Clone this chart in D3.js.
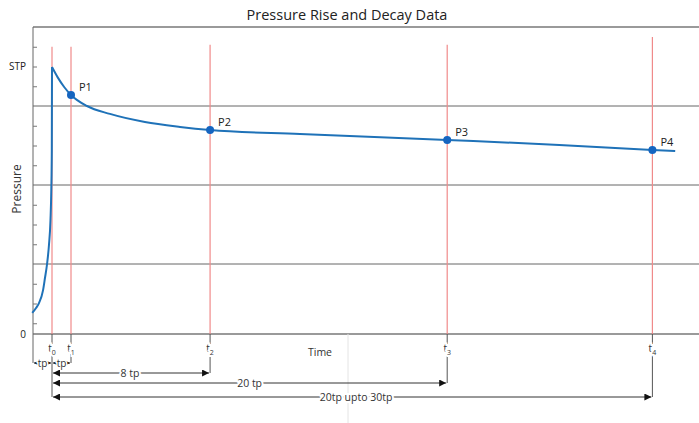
<!DOCTYPE html>
<html>
<head>
<meta charset="utf-8">
<script src="https://cdn.jsdelivr.net/npm/d3@7"></script>
<style>
  body { margin: 0; background: #fff; }
  text { font-family: "Open Sans", sans-serif; fill: #333; }
</style>
</head>
<body>
<script>
// Chart size
var w = 699;
var h = 423;

// Data (time in tp units, pressure in arbitrary units)
var riseTime     = [-1.04, -0.84, -0.68, -0.47, -0.37, -0.26, -0.16, -0.08, -0.037, -0.01, 0];
var risePressure = [1.52, 1.77, 2.03, 2.68, 3.29, 4.0, 4.96, 6.23, 7.75, 9.77, 13.97];
var decayTime     = [0, 0.3, 0.65, 1.0, 1.84, 3.05, 4.89, 6.74, 8.32, 13.05, 20.8, 26.7, 31.6, 32.8];
var decayPressure = [13.97, 13.45, 12.95, 12.56, 12.0, 11.6, 11.19, 10.94, 10.78, 10.58, 10.28, 10.03, 9.77, 9.72];

var pointNames    = ["P1", "P2", "P3", "P4"];
var pointTime     = [1.0, 8.32, 20.8, 31.6];
var pointPressure = [12.56, 10.78, 10.28, 9.77];

var markTime = [0, 1.0, 8.32, 20.8, 31.6];
var markSub  = ["0", "1", "2", "3", "4"];
var markTop  = [15, 15, 15.1, 15.1, 15.5];

var gridValues  = [4, 8, 12, 16];
var minorTicks  = [1, 2, 3, 5, 6, 7, 9, 10, 11, 13, 14, 15];
var labelValues = [0.46, 14];
var labelText   = ["0", "STP"];

var spanLabels = ["8 tp", "20 tp", "20tp upto 30tp"];
var spanEnd    = [8.32, 20.8, 31.6];
var spanMid    = [4.1, 10.4, 16.0];

// Scales
var x = d3.scaleLinear().domain([-1, 34]).range([33, 698]);
var y = d3.scaleLinear().domain([0, 16]).range([343, 27]);
var baseY = y(0.46);

var svg = d3.select("body").append("svg")
    .attr("width", w)
    .attr("height", h);

// Arrowhead marker
svg.append("defs").append("marker")
    .attr("id", "arrow")
    .attr("viewBox", "0 0 10 10")
    .attr("refX", 10).attr("refY", 5)
    .attr("markerWidth", 7).attr("markerHeight", 7)
    .attr("markerUnits", "userSpaceOnUse")
    .attr("orient", "auto-start-reverse")
    .append("path")
    .attr("d", "M0,0L10,5L0,10z")
    .attr("fill", "#111");

// Title
svg.append("text")
    .attr("x", 347).attr("y", 20)
    .attr("text-anchor", "middle")
    .style("font-size", "14.5px")
    .style("fill", "#222")
    .text("Pressure Rise and Decay Data");

// Horizontal grid lines
svg.selectAll("line.grid")
    .data(gridValues)
    .enter().append("line")
    .attr("class", "grid")
    .attr("x1", x(-1)).attr("x2", w)
    .attr("y1", function(d) { return y(d); })
    .attr("y2", function(d) { return y(d); })
    .attr("stroke", function(d) { return d == 16 ? "#9a9a9a" : "#666"; })
    .attr("stroke-width", function(d) { return d == 16 ? 2 : 1; });

// Baseline
svg.append("line")
    .attr("x1", x(-1)).attr("x2", w)
    .attr("y1", baseY).attr("y2", baseY)
    .attr("stroke", "#9a9a9a").attr("stroke-width", 2);

// faint scan line
svg.append("line")
    .attr("x1", 348).attr("x2", 348)
    .attr("y1", baseY).attr("y2", h)
    .attr("stroke", "#e4e4e4").attr("stroke-width", 1);

// Left axis line
svg.append("line")
    .attr("x1", x(-1)).attr("x2", x(-1))
    .attr("y1", y(16)).attr("y2", 363)
    .attr("stroke", "#666").attr("stroke-width", 1);

// Minor ticks on the inside
var tickAxis = svg.append("g")
    .attr("transform", "translate(" + x(-1) + ",0)")
    .call(d3.axisRight(y).tickValues(minorTicks).tickSize(4).tickFormat(""));
tickAxis.select(".domain").remove();
tickAxis.selectAll("line").attr("stroke", "#777");

// Pressure labels
var labAxis = svg.append("g")
    .attr("transform", "translate(" + (x(-1) - 4) + ",0)")
    .call(d3.axisLeft(y).tickValues(labelValues).tickSize(0)
        .tickFormat(function(d, i) { return labelText[i]; }));
labAxis.select(".domain").remove();
labAxis.selectAll("text")
    .style("font-family", "'Open Sans', sans-serif")
    .style("font-size", "10px")
    .style("fill", "#222");

// Y axis title
svg.append("text")
    .attr("transform", "translate(21,189) rotate(-90)")
    .attr("text-anchor", "middle")
    .style("font-size", "12px")
    .text("Pressure");

// Red time markers
svg.selectAll("line.mark")
    .data(markTime)
    .enter().append("line")
    .attr("class", "mark")
    .attr("x1", function(d) { return x(d); })
    .attr("x2", function(d) { return x(d); })
    .attr("y1", function(d, i) { return y(markTop[i]); })
    .attr("y2", baseY)
    .attr("stroke", "#f08a8a").attr("stroke-width", 1.2);

// Dimension rows below the axis
var rowY = [373, 383, 397];
var markRowEnd = [397, 363, 373, 383, 397];

svg.selectAll("line.ext")
    .data(markTime)
    .enter().append("line")
    .attr("class", "ext")
    .attr("x1", function(d) { return x(d); })
    .attr("x2", function(d) { return x(d); })
    .attr("y1", baseY)
    .attr("y2", function(d, i) { return markRowEnd[i]; })
    .attr("stroke", "#555").attr("stroke-width", 1);

// tp arrows
var tpSpans = [[-1, 0], [0, 1]];
tpSpans.forEach(function(s) {
    svg.append("line")
        .attr("x1", x(s[0]) + 1).attr("x2", x(s[1]) - 1)
        .attr("y1", 363).attr("y2", 363)
        .attr("stroke", "#333").attr("stroke-width", 1)
        .attr("marker-start", "url(#arrow)")
        .attr("marker-end", "url(#arrow)");
    svg.append("text")
        .attr("x", (x(s[0]) + x(s[1])) / 2).attr("y", 366.5)
        .attr("text-anchor", "middle")
        .style("font-size", "10px")
        .style("stroke", "#fff").style("stroke-width", 3)
        .style("paint-order", "stroke")
        .text("tp");
});

spanEnd.forEach(function(d, i) {
    svg.append("line")
        .attr("x1", x(0) + 1).attr("x2", x(d) - 1)
        .attr("y1", rowY[i]).attr("y2", rowY[i])
        .attr("stroke", "#333").attr("stroke-width", 1)
        .attr("marker-start", "url(#arrow)")
        .attr("marker-end", "url(#arrow)");
    svg.append("text")
        .attr("x", x(spanMid[i])).attr("y", rowY[i] + 3.5)
        .attr("text-anchor", "middle")
        .style("font-size", "10.5px")
        .style("stroke", "#fff").style("stroke-width", 4)
        .style("paint-order", "stroke")
        .text(spanLabels[i]);
});

// Time labels t0..t4
var tLab = svg.selectAll("text.tlab")
    .data(markTime)
    .enter().append("text")
    .attr("class", "tlab")
    .attr("x", function(d) { return x(d); })
    .attr("y", 352)
    .attr("text-anchor", "middle")
    .style("font-size", "10px")
    .style("stroke", "#fff").style("stroke-width", 4)
    .style("paint-order", "stroke");
tLab.append("tspan").text("t");
tLab.append("tspan")
    .attr("dy", 3)
    .style("font-size", "7px")
    .text(function(d, i) { return markSub[i]; });

svg.append("text")
    .attr("x", 320).attr("y", 356)
    .attr("text-anchor", "middle")
    .style("font-size", "10.5px")
    .text("Time");

// Pressure curve
var line = d3.line()
    .x(function(d) { return x(d[0]); })
    .y(function(d) { return y(d[1]); })
    .curve(d3.curveMonotoneX);

var rise = d3.zip(riseTime, risePressure);
var decay = d3.zip(decayTime, decayPressure);

[rise, decay].forEach(function(seg) {
    svg.append("path")
        .datum(seg)
        .attr("d", line)
        .attr("fill", "none")
        .attr("stroke", "#1f72b8")
        .attr("stroke-width", 2);
});

// Points
svg.selectAll("circle")
    .data(pointTime)
    .enter().append("circle")
    .attr("cx", function(d) { return x(d); })
    .attr("cy", function(d, i) { return y(pointPressure[i]); })
    .attr("r", 4)
    .attr("fill", "#1565c0");

svg.selectAll("text.plab")
    .data(pointNames)
    .enter().append("text")
    .attr("class", "plab")
    .attr("x", function(d, i) { return x(pointTime[i]) + 8; })
    .attr("y", function(d, i) { return y(pointPressure[i]) - 4; })
    .style("font-size", "11px")
    .style("fill", "#222")
    .text(function(d) { return d; });
</script>
</body>
</html>
